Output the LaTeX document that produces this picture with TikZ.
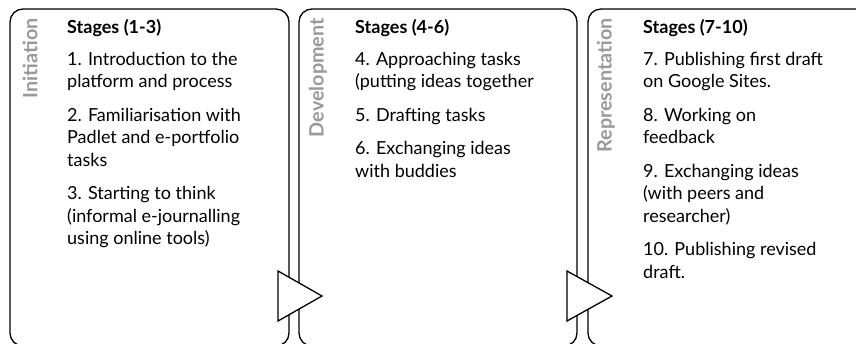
\documentclass[tikz,border=0pt]{standalone}
\usepackage{fontspec}
\setmainfont{Lato}
\usetikzlibrary{positioning}

\begin{document}
\begin{tikzpicture}[x=1pt,y=-1pt,
      box/.style={draw,line width=1.3pt,rounded corners=13pt},
      tri/.style={draw,fill=white,line width=1.3pt,line join=miter},
      phase/.style={rotate=90,anchor=east,inner sep=0pt,text=black!40,font=\fontsize{19.8}{19.8}\selectfont\bfseries},
      stages/.style={anchor=north west,inner sep=0pt,align=left,font=\fontsize{18}{22.5}\selectfont}
    ]
      \useasboundingbox (0,0) rectangle (856,343);
      \clip (0,0) rectangle (856,343);
      \draw[box] (10,9) rectangle (289,346);
      \draw[box] (299,9) rectangle (577,346);
      \draw[box] (588,9) rectangle (880,346);
      \draw[tri] (278,271) -- (278,321) -- (322,296) -- cycle;
      \draw[tri] (567,271) -- (567,321) -- (612,296) -- cycle;
      \node[phase] (init) at (30,18) {Initiation};
      \node[phase] (dev) at (318,18) {Development};
      \node[phase] (rep) at (606,18) {Representation};
      \node[stages] (s1) at (67,19) {\textbf{Stages (1-3)}\\[9.5pt]
        1. Introduction to the\\ platform and process\\[11pt]
        2. Familiarisation with\\ Padlet and e-portfolio\\ tasks\\[11pt]
        3. Starting to think\\ (informal e-journalling\\ using online tools)};
      \node[stages] (s2) at (355,19) {\textbf{Stages (4-6)}\\[9.5pt]
        4. Approaching tasks\\ (putting ideas together\\[11pt]
        5. Drafting tasks\\[11pt]
        6. Exchanging ideas\\ with buddies};
      \node[stages] (s3) at (643,19) {\textbf{Stages (7-10)}\\[9.5pt]
        7. Publishing first draft\\ on Google Sites.\\[11pt]
        8. Working on\\ feedback\\[11pt]
        9. Exchanging ideas\\ (with peers and\\ researcher)\\[11pt]
        10. Publishing revised\\ draft.};
    \end{tikzpicture}
\end{document}
